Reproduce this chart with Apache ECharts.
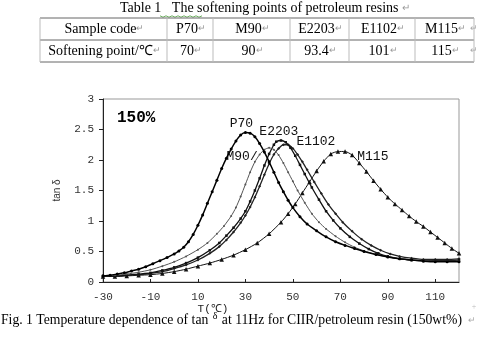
<!DOCTYPE html>
<html><head><meta charset="utf-8">
<script src="https://cdn.jsdelivr.net/npm/echarts@6/dist/echarts.min.js"></script>
<style>html,body{margin:0;padding:0;background:#fff}#c{width:477px;height:355px}</style>
</head><body><div id="c"></div>
<script>
// ---------- data ----------
const tableTitle = 'Table 1   The softening points of petroleum resins';
const headerRow = ['Sample code', 'P70', 'M90', 'E2203', 'E1102', 'M115'];
const valueRow = ['Softening point/℃', '70', '90', '93.4', '101', '115'];
const seriesNames = ['P70', 'M90', 'E2203', 'E1102', 'M115'];
const concentrationLabel = '150%';
const xAxisTitle = 'T(℃)';
const yAxisTitle = 'tan δ';
const figCaptionA = 'Fig. 1 Temperature dependence of tan ';
const figCaptionB = ' at 11Hz for CIIR/petroleum resin (150wt%)';

const p70 = [[-30,0.10],[-27,0.11],[-24,0.13],[-21,0.15],[-18,0.18],[-15,0.21],[-12,0.25],[-9,0.30],[-6,0.35],[-3,0.40],[0,0.46],[2,0.51],[4,0.57],[6,0.66],[8,0.78],[10,0.93],[12,1.10],[14,1.29],[16,1.48],[18,1.67],[20,1.86],[22,2.03],[24,2.18],[26,2.31],[28,2.41],[30,2.45],[32,2.44],[34,2.38],[36,2.27],[38,2.13],[40,1.97],[42,1.80],[44,1.63],[46,1.48],[48,1.34],[50,1.22],[53,1.07],[56,0.95],[60,0.84],[64,0.74],[68,0.66],[72,0.60],[76,0.55],[80,0.50],[85,0.45],[90,0.41],[95,0.38],[100,0.36],[105,0.34],[110,0.33],[115,0.33],[120,0.33]];
const m90 = [[-30,0.10],[-25,0.11],[-20,0.13],[-15,0.16],[-10,0.20],[-5,0.26],[0,0.33],[5,0.42],[10,0.53],[14,0.64],[18,0.79],[21,0.92],[24,1.08],[26,1.22],[28,1.40],[30,1.60],[32,1.80],[34,1.97],[36,2.09],[38,2.17],[40,2.20],[42,2.17],[44,2.08],[46,1.95],[48,1.80],[50,1.65],[52,1.50],[55,1.30],[58,1.12],[61,0.98],[64,0.87],[68,0.75],[72,0.65],[76,0.57],[80,0.51],[85,0.45],[90,0.41],[95,0.38],[100,0.36],[105,0.35],[110,0.34],[115,0.34],[120,0.34]];
const e2203 = [[-30,0.10],[-25,0.10],[-20,0.11],[-15,0.13],[-10,0.15],[-5,0.19],[0,0.24],[5,0.31],[10,0.40],[15,0.52],[19,0.64],[22,0.76],[25,0.89],[28,1.04],[30,1.16],[32,1.32],[34,1.50],[36,1.70],[38,1.91],[40,2.10],[42,2.25],[43,2.30],[45,2.32],[47,2.29],[49,2.20],[51,2.07],[53,1.92],[55,1.77],[58,1.55],[61,1.35],[64,1.16],[67,1.01],[70,0.88],[74,0.74],[78,0.63],[82,0.54],[86,0.47],[90,0.42],[95,0.38],[100,0.36],[105,0.35],[110,0.35],[115,0.35],[120,0.36]];
const e1102 = [[-30,0.10],[-25,0.10],[-20,0.11],[-15,0.12],[-10,0.14],[-5,0.17],[0,0.22],[5,0.28],[10,0.36],[15,0.47],[19,0.58],[22,0.69],[25,0.82],[28,0.97],[30,1.09],[32,1.23],[34,1.39],[36,1.57],[38,1.76],[40,1.94],[42,2.09],[44,2.19],[46,2.25],[48,2.25],[50,2.19],[52,2.09],[54,1.97],[56,1.84],[59,1.64],[62,1.45],[65,1.27],[68,1.12],[71,0.98],[75,0.83],[79,0.70],[83,0.60],[87,0.52],[91,0.46],[95,0.42],[100,0.39],[105,0.37],[110,0.37],[115,0.37],[120,0.38]];
const m115 = [[-30,0.09],[-25,0.09],[-20,0.10],[-15,0.11],[-10,0.12],[-5,0.14],[0,0.17],[5,0.21],[10,0.26],[15,0.31],[20,0.37],[25,0.44],[30,0.53],[35,0.64],[40,0.79],[45,0.98],[48,1.12],[51,1.28],[54,1.46],[57,1.64],[60,1.82],[63,1.98],[66,2.10],[69,2.14],[72,2.14],[75,2.08],[78,1.95],[81,1.81],[84,1.66],[87,1.52],[90,1.39],[93,1.28],[96,1.18],[99,1.08],[102,0.99],[105,0.91],[108,0.82],[111,0.73],[114,0.64],[117,0.55],[120,0.47]];
const seriesData = [p70, m90, e2203, e1102, m115];

// ---------- layout / styles ----------
const labelCoords = [[28.3,2.59],[28.6,2.06],[44.1,2.46],[59.7,2.31],[83.7,2.05]];
const labelTexts = ['P70','M90/','E2203','E1102','M115'];
const styles = [
  {symbol:'circle', size:3, color:'#000', width:1.5},
  {symbol:'circle', size:2, color:'#555', width:1},
  {symbol:'rect', size:2.5, color:'#111', width:1.3},
  {symbol:'diamond', size:3, color:'#222', width:1.3},
  {symbol:'triangle', size:4.5, color:'#111', width:1}
];
const colEdges = [40, 167, 213, 290, 349, 415, 474];
const rowLines = [18, 40, 62];
const rowCenters = [29, 51];
const serif = '"Liberation Serif","Times New Roman",serif';
const mono = '"Liberation Mono","Courier New",monospace';

const graphics = [];
// table title
graphics.push({type:'text', x:265, y:8, style:{text:tableTitle + ' {r|↵}', font:'14px ' + serif, fill:'#000', align:'center', verticalAlign:'middle', rich:{r:{fontSize:10, fill:'#999', fontFamily:serif}}}});
// wavy underline under "The"
(function(){
  const pts = [];
  for (let i = 0; i <= 14; i++) pts.push([160 + i * 3, 16 + (i % 2 ? 1.2 : -0.2)]);
  graphics.push({type:'polyline', shape:{points:pts}, style:{stroke:'#4a9a3a', lineWidth:0.8, fill:null}});
})();
// table lines
rowLines.forEach(y => graphics.push({type:'line', shape:{x1:colEdges[0], y1:y, x2:colEdges[colEdges.length-1], y2:y}, style:{stroke:'#666', lineWidth:1}}));
colEdges.forEach(x => graphics.push({type:'line', shape:{x1:x, y1:rowLines[0], x2:x, y2:rowLines[2]}, style:{stroke:'#bbb', lineWidth:1}}));
[headerRow, valueRow].forEach((row, r) => {
  row.forEach((txt, c) => {
    graphics.push({type:'text', x:(colEdges[c] + colEdges[c+1]) / 2 + 1, y:rowCenters[r],
      style:{text: txt + '{r|↵}', font:'14px ' + serif, fill:'#000', align:'center', verticalAlign:'middle',
        rich:{r:{fontSize:9, fill:'#999', fontFamily:serif}}}});
  });
  graphics.push({type:'text', x:478, y:rowCenters[r], style:{text:'↵', font:'9px ' + serif, fill:'#aaa', align:'right', verticalAlign:'middle'}});
});
// 150% label
graphics.push({type:'text', x:117, y:118, style:{text:concentrationLabel, font:'bold 16px ' + mono, fill:'#000', align:'left', verticalAlign:'middle'}});
// x-axis title
graphics.push({type:'text', x:213, y:309, style:{text:xAxisTitle, font:'11px ' + mono, fill:'#222', align:'center', verticalAlign:'middle'}});
// caption
graphics.push({type:'text', x:1, y:320, style:{text:figCaptionA + '{d|δ}' + figCaptionB, font:'13.7px ' + serif, fill:'#000', align:'left', verticalAlign:'middle',
  rich:{d:{fontSize:10, fontFamily:serif, fill:'#000', padding:[0,1,7,1]}}}});
graphics.push({type:'text', x:476, y:321, style:{text:'↵', font:'9px ' + serif, fill:'#aaa', align:'right', verticalAlign:'middle'}});
graphics.push({type:'text', x:474, y:307, style:{text:'+', font:'8px ' + serif, fill:'#bbb', align:'center', verticalAlign:'middle'}});

const series = seriesData.map((d, i) => ({
  name: seriesNames[i], type:'line', data:d, smooth:0.2,
  symbol: styles[i].symbol, symbolSize: styles[i].size, showSymbol:true,
  lineStyle:{color:styles[i].color, width:styles[i].width},
  itemStyle:{color:styles[i].color},
  z: 5 - i,
  markPoint:{
    symbol:'circle', symbolSize:1, itemStyle:{color:'rgba(0,0,0,0)'},
    label:{show:true, position:'inside', formatter: labelTexts[i], color:'#111', fontFamily: mono, fontSize:13},
    data:[{coord: labelCoords[i]}]
  }
}));

const chart = echarts.init(document.getElementById('c'), null, {renderer:'canvas'});
chart.setOption({
  animation:false,
  backgroundColor:'#fff',
  grid:{left:103, top:99, right:18, bottom:73, show:true, borderColor:'#999', borderWidth:1, backgroundColor:'transparent'},
  xAxis:{type:'value', min:-30, max:120, interval:20,
    axisLine:{show:true, onZero:false, lineStyle:{color:'#222'}},
    axisTick:{show:true, inside:true, length:3, lineStyle:{color:'#222'}},
    axisLabel:{showMaxLabel:false, color:'#333', fontFamily:mono, fontSize:11, margin:10},
    splitLine:{show:false}},
  yAxis:{type:'value', min:0, max:3, interval:0.5,
    name:yAxisTitle, nameLocation:'middle', nameGap:41, nameRotate:90,
    nameTextStyle:{color:'#333', fontFamily:'"Liberation Sans",sans-serif', fontSize:10},
    axisLine:{show:true, onZero:false, lineStyle:{color:'#222'}},
    axisTick:{show:true, inside:false, length:4, lineStyle:{color:'#222'}},
    axisLabel:{color:'#333', fontFamily:mono, fontSize:11, margin:9},
    splitLine:{show:false}},
  series: series,
  graphic: graphics
});
</script>
</body></html>
